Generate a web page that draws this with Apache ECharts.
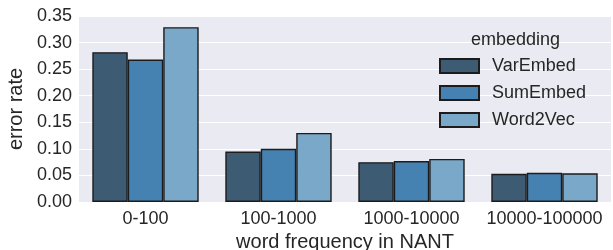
<!DOCTYPE html>
<html>
<head>
<meta charset="utf-8">
<script src="https://cdn.jsdelivr.net/npm/echarts@6/dist/echarts.min.js"></script>
<style>
  html, body { margin: 0; padding: 0; background: #fff; }
  #chart { width: 613px; height: 250px; }
</style>
</head>
<body>
<div id="chart"></div>
<script>
// word frequency buckets
var categories = ['0-100', '100-1000', '1000-10000', '10000-100000']
var seriesNames = ['VarEmbed', 'SumEmbed', 'Word2Vec']
var varEmbed = [0.282, 0.095, 0.075, 0.053]
var sumEmbed = [0.268, 0.100, 0.077, 0.055]
var word2vec = [0.329, 0.130, 0.081, 0.054]
var colors = ['#3d5b72', '#4682b1', '#7aa8c9']

var font = 'Liberation Sans, Arial, sans-serif'
var chart = echarts.init(document.getElementById('chart'))

function bar(name, data, color) {
  return {
    name: name,
    type: 'bar',
    data: data,
    barGap: '0%',
    barCategoryGap: '20%',
    itemStyle: { color: color, borderColor: '#1c1c1c', borderWidth: 1.4 },
    animation: false
  }
}

var option = {
  backgroundColor: '#fff',
  textStyle: { fontFamily: font },
  grid: {
    left: 79, right: 2, top: 16, bottom: 48,
    outerBoundsMode: 'none', containLabel: false,
    backgroundColor: '#eaeaf2', show: true, borderWidth: 0
  },
  title: {
    text: 'embedding',
    left: 471,
    top: 31,
    padding: 0,
    textStyle: { fontFamily: font, fontSize: 18, fontWeight: 'normal', color: '#262626' }
  },
  legend: {
    data: seriesNames,
    orient: 'vertical',
    left: 439,
    top: 57,
    padding: 0,
    icon: 'rect',
    itemWidth: 39,
    itemHeight: 14,
    itemGap: 9,
    textStyle: { fontFamily: font, fontSize: 18, color: '#262626', padding: [0, 0, 0, 8] }
  },
  xAxis: {
    type: 'category',
    data: categories,
    name: 'word frequency in NANT',
    nameLocation: 'middle',
    nameGap: 23,
    nameTextStyle: { fontFamily: font, fontSize: 20, color: '#262626' },
    axisLine: { show: false },
    axisTick: { show: false },
    axisLabel: { interval: 0, fontFamily: font, fontSize: 18, color: '#262626', margin: 8 }
  },
  yAxis: {
    type: 'value',
    min: 0,
    max: 0.35,
    interval: 0.05,
    name: 'error rate',
    nameLocation: 'middle',
    nameGap: 46,
    nameTextStyle: { fontFamily: font, fontSize: 20, color: '#262626' },
    axisLine: { show: false },
    axisTick: { show: false },
    splitLine: { lineStyle: { color: '#ffffff', width: 1 } },
    axisLabel: {
      fontFamily: font, fontSize: 18, color: '#262626', margin: 7,
      formatter: function (v) { return v.toFixed(2) }
    }
  },
  series: [
    bar(seriesNames[0], varEmbed, colors[0]),
    bar(seriesNames[1], sumEmbed, colors[1]),
    bar(seriesNames[2], word2vec, colors[2])
  ]
}
chart.setOption(option)
</script>
</body>
</html>
